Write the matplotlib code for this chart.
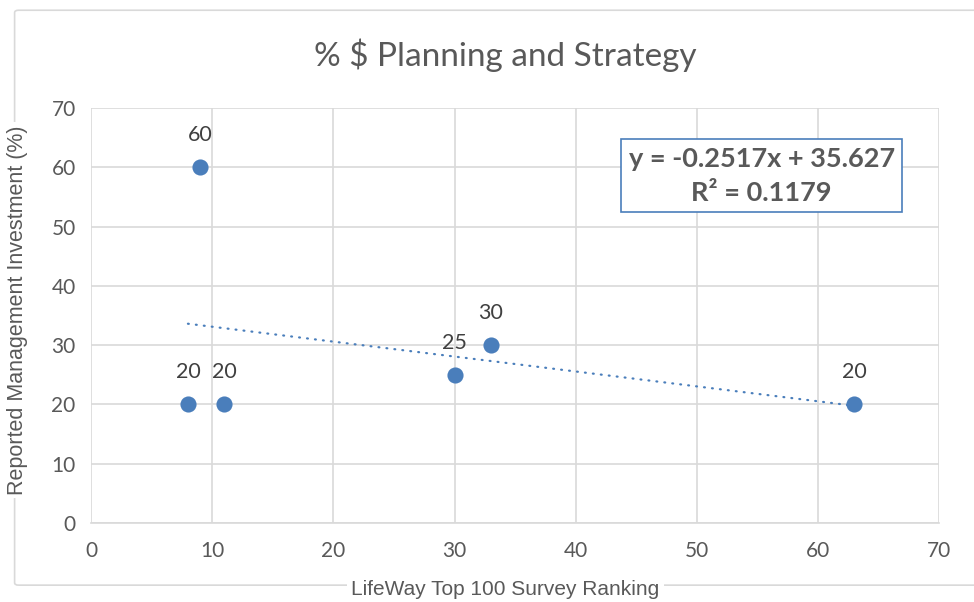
import matplotlib
matplotlib.use("Agg")
import matplotlib.pyplot as plt
import matplotlib.patches as mpatches
import numpy as np

# survey data
ranking = [8, 9, 11, 30, 33, 63]
invest = [20, 60, 20, 25, 30, 20]
labels = ["20", "60", "20", "25", "30", "20"]

slope = -0.2517
intercept = 35.627
eq_text = "y = -0.2517x + 35.627\nR² = 0.1179"

x_ticks = [0, 10, 20, 30, 40, 50, 60, 70]
y_ticks = [0, 10, 20, 30, 40, 50, 60, 70]

TEXT = "#595959"
GRID = "#d9d9d9"
BLUE = "#4a7ebb"
CAL = ["Lato", "DejaVu Sans"]
NARROW = ["Liberation Sans Narrow", "Liberation Sans", "DejaVu Sans"]

fig = plt.figure(figsize=(9.74, 6.02), dpi=100)
ax = fig.add_axes([0.0934, 0.1312, 0.871, 0.6894])

# outer chart frame
frame = mpatches.FancyBboxPatch((0.015, 0.028), 0.99, 0.955,
                                boxstyle="round,pad=0,rounding_size=0.004",
                                transform=fig.transFigure, fill=False,
                                edgecolor=GRID, linewidth=1.2, zorder=0)
fig.add_artist(frame)

ax.scatter(ranking, invest, s=135, color=BLUE, zorder=3, linewidths=0)
for x, y, t in zip(ranking, invest, labels):
    ax.annotate(t, (x, y), xytext=(0, 23), textcoords="offset points",
                ha="center", va="center", fontsize=15.5, color="#404040",
                family=CAL)

xs = np.array([min(ranking), max(ranking)])
ax.plot(xs, slope * xs + intercept, color=BLUE, linewidth=1.6,
        linestyle=(0, (0.4, 3.2)), dash_capstyle="round", zorder=2)

ax.set_xlim(0, 70)
ax.set_ylim(0, 70)
ax.set_xticks(x_ticks)
ax.set_yticks(y_ticks)
ax.grid(True, color=GRID, linewidth=1.2)
ax.set_axisbelow(True)
for s in ["top", "right", "left"]:
    ax.spines[s].set_visible(False)
ax.spines["bottom"].set_color(GRID)
ax.spines["bottom"].set_linewidth(1.2)
ax.tick_params(length=0, pad=13, labelsize=15, labelcolor=TEXT)
for lab in ax.get_xticklabels() + ax.get_yticklabels():
    lab.set_family(CAL)
ax.tick_params(axis="y", pad=11)

fig.text(0.519, 0.908, "% $ Planning and Strategy", ha="center", va="center",
         fontsize=24, color=TEXT, family=CAL)

fig.text(0.519, 0.02, "LifeWay Top 100 Survey Ranking", ha="center",
         va="center", fontsize=15, color=TEXT, family=NARROW,
         bbox=dict(facecolor="white", edgecolor="none", pad=3))
fig.text(0.018, 0.485, "Reported Management Investment (%)", ha="center",
         va="center", rotation=90, fontsize=15.5, color=TEXT, family=NARROW,
         bbox=dict(facecolor="white", edgecolor="none", pad=2))

# trendline equation box
fig.text(0.782, 0.708, eq_text, ha="center", va="center", fontsize=19.5,
         fontweight="bold", color=TEXT, family=CAL, linespacing=1.5,
         bbox=dict(facecolor="white", edgecolor=BLUE, linewidth=1.2,
                   boxstyle="square,pad=0.28"))

fig.savefig("out.png", dpi=100, facecolor="white")
